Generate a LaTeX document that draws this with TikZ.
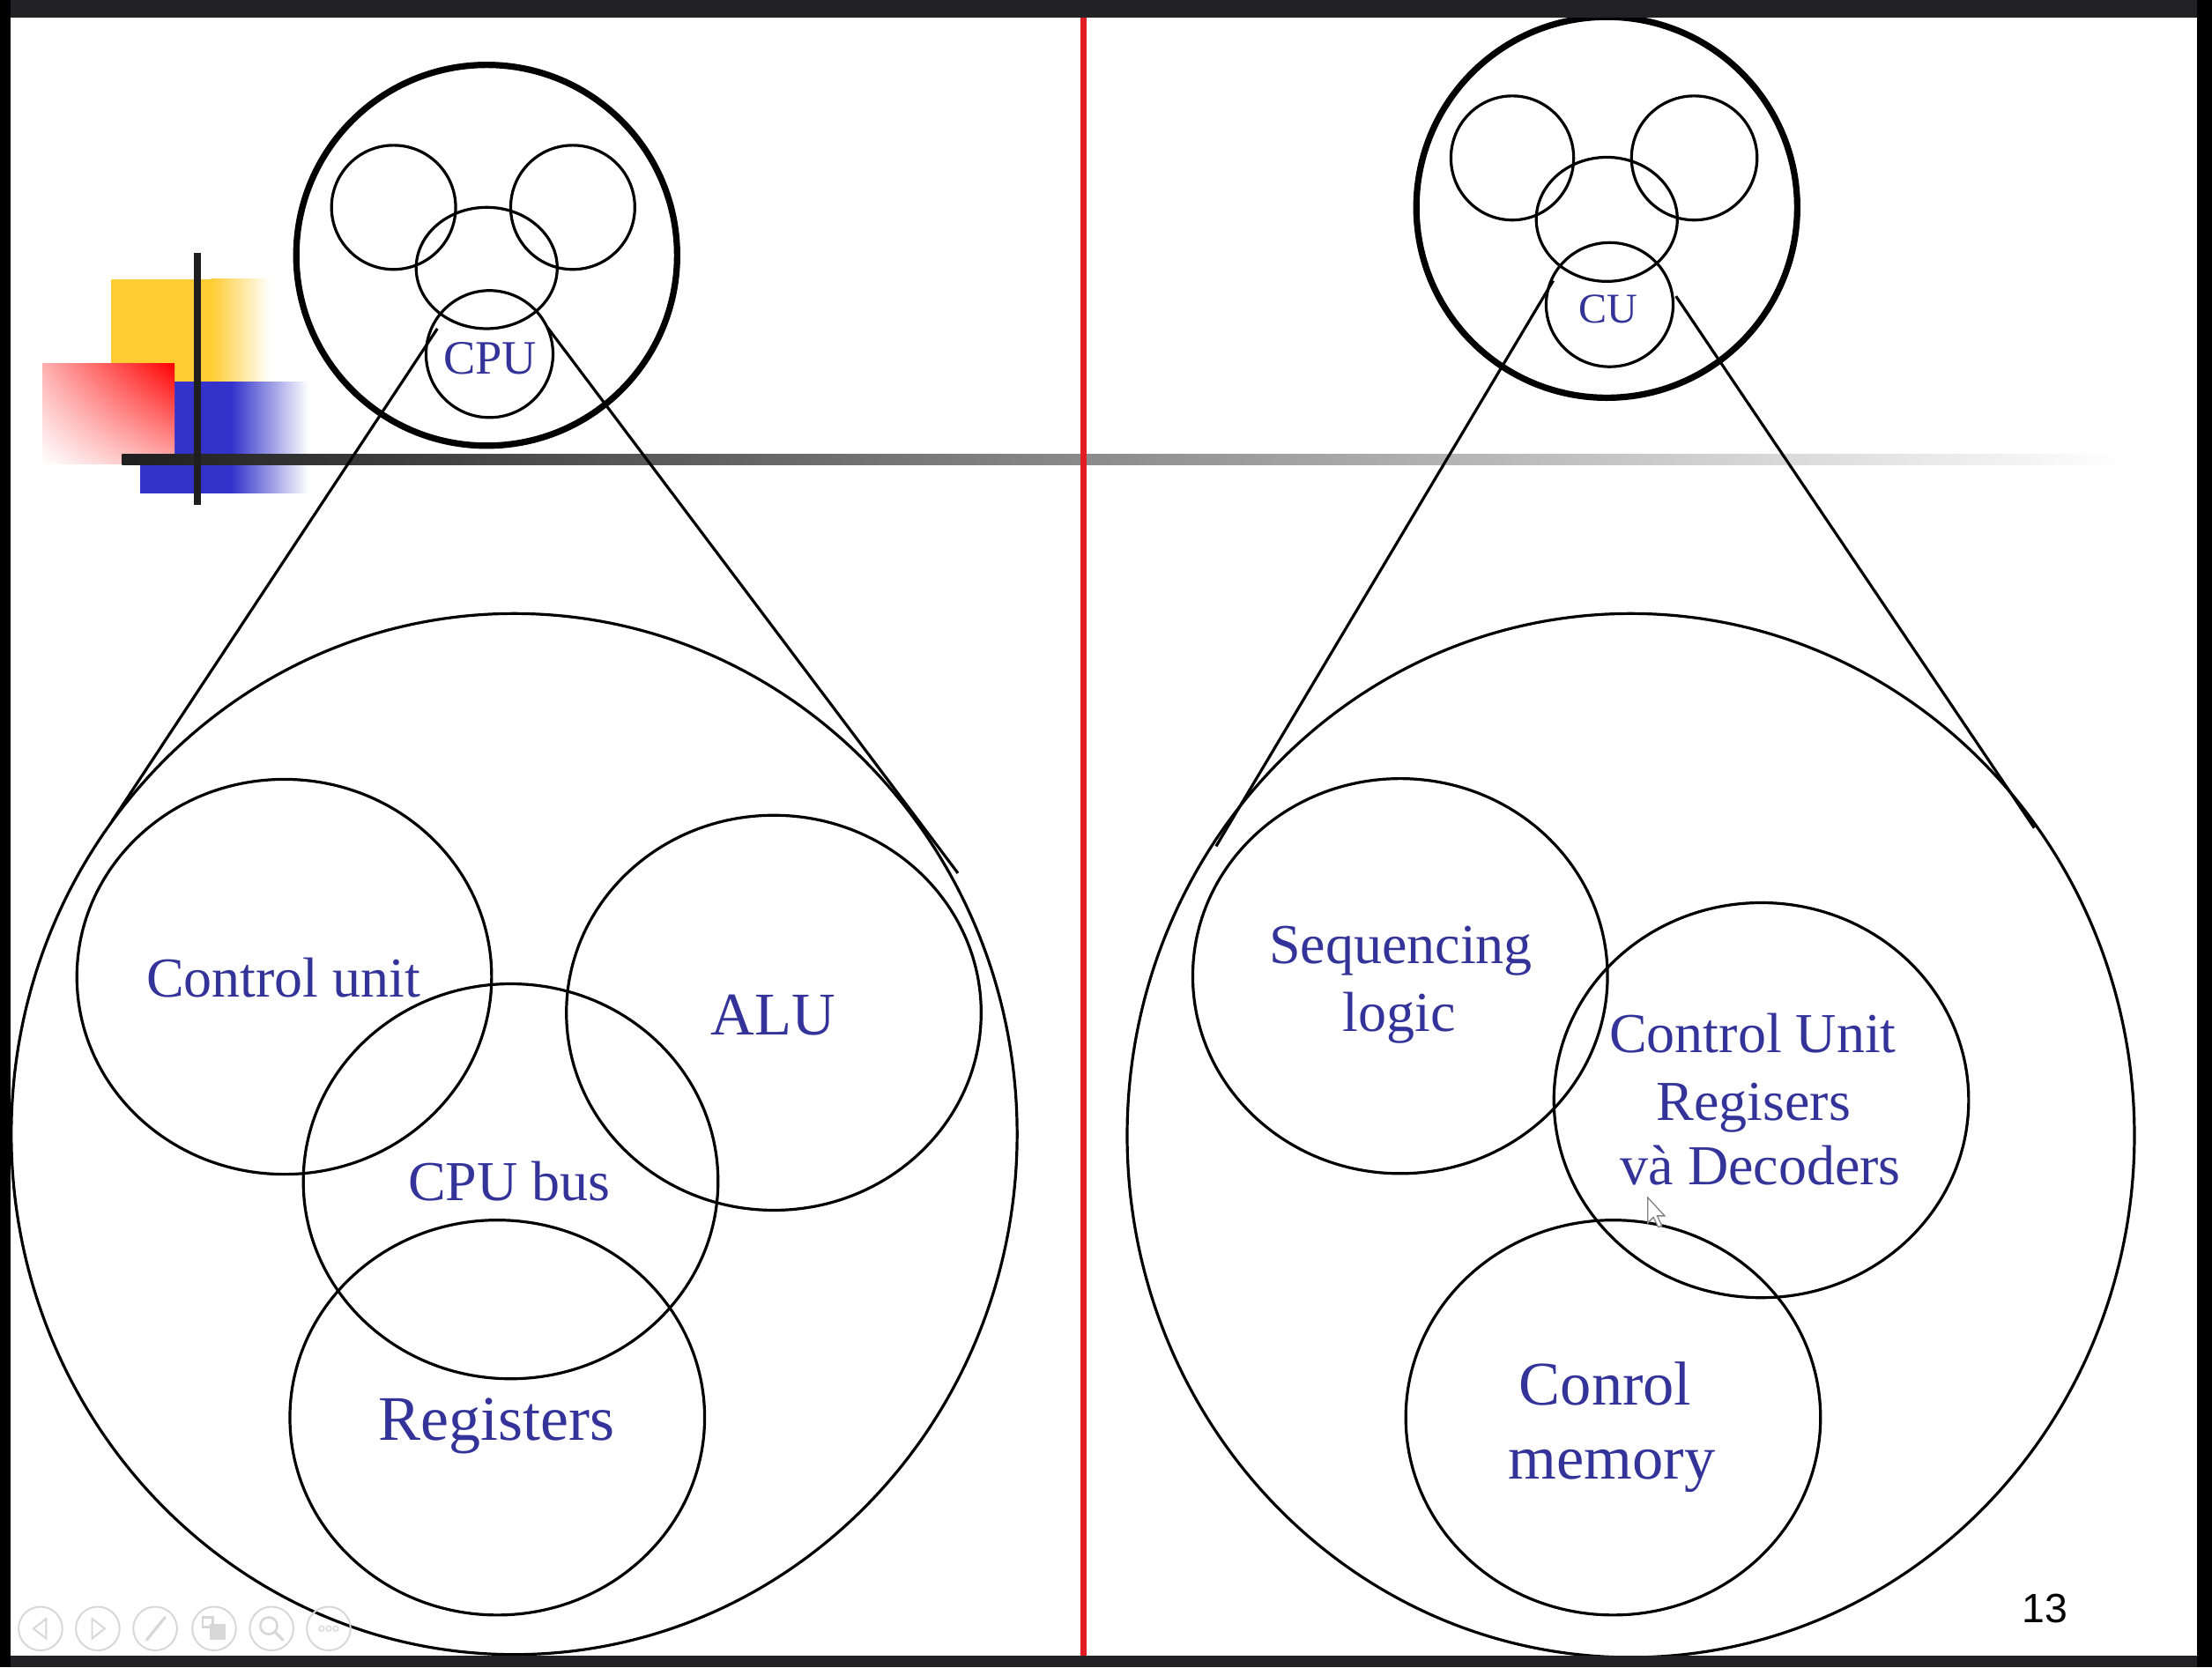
\documentclass[tikz,border=0pt]{standalone}
\usepackage{fontspec}
\setmainfont{Liberation Serif}
\newfontfamily\numfont{Liberation Sans}
\usetikzlibrary{shapes.geometric,calc,shadings}
\definecolor{txtblue}{RGB}{51,51,153}
\definecolor{decoyellow}{RGB}{255,204,51}
\definecolor{decoblue}{RGB}{51,51,204}
\definecolor{decored}{RGB}{255,0,0}
\definecolor{decopink}{RGB}{255,175,175}
\definecolor{linered}{RGB}{226,30,36}
\definecolor{framedark}{RGB}{34,34,36}
\definecolor{navgray}{RGB}{215,215,215}
\tikzset{
  ring/.style={draw=black, line width=2pt, ellipse, inner sep=0pt, outer sep=0pt},
  thickring/.style={draw=black, line width=4.5pt, ellipse, inner sep=0pt, outer sep=0pt},
  zoomline/.style={draw=black, line width=2pt},
  lbl/.style={text=txtblue, inner sep=0pt, anchor=base},
  navring/.style={draw=navgray, line width=1.2pt, circle, minimum size=31pt, inner sep=0pt},
}
\begin{document}
\begin{tikzpicture}[x=1pt,y=-1pt]
\useasboundingbox (0,0) rectangle (1568,1182);
\fill[white] (0,0) rectangle (1568,1182);

% ---------- decoration top-left ----------
\fill[decoyellow] (78.7,197.8) rectangle (150,270.6);
\shade[left color=decoyellow, right color=white] (149.5,197.8) rectangle (191.6,270.6);
\fill[decoblue] (99.5,270.6) rectangle (164.5,349.8);
\shade[left color=decoblue, right color=white] (164,270.6) rectangle (218.6,349.8);
\shade[upper right=decored, upper left=decopink, lower right=decopink, lower left=white] (30,257.6) rectangle (123.8,329);
\shade[left color=black!88, middle color=black!28, right color=white] (86.4,321.9) rectangle (1505,329.4);
\fill[black!88] (137.4,179.5) rectangle (142.2,358);

% ---------- red separator ----------
\draw[linered, line width=4.5pt] (768,10) -- (768,1176);

% ---------- left: CPU ----------
\node[thickring, minimum width=270, minimum height=270] (cpuOuter) at (345,181) {};
\node[ring, minimum width=88, minimum height=88] (cpuA) at (279,147) {};
\node[ring, minimum width=88, minimum height=88] (cpuB) at (406,147) {};
\node[ring, minimum width=100, minimum height=86] (cpuC) at (345,190) {};
\node[ring, minimum width=90, minimum height=90] (cpuSmall) at (347,251) {};
\node[lbl, font=\fontsize{34}{40}\selectfont] (cpuText) at (347.5,265) {CPU};

\node[ring, minimum width=713, minimum height=738] (bigL) at (364.5,804) {};
\node[ring, minimum width=294, minimum height=280] (cunit) at (201.5,692.5) {};
\node[ring, minimum width=294, minimum height=280] (alu) at (548.5,718) {};
\node[ring, minimum width=294, minimum height=280] (cpubus) at (362,837.5) {};
\node[ring, minimum width=294, minimum height=280] (regs) at (352.5,1005) {};

\node[lbl, font=\fontsize{40}{48}\selectfont] (tCunit) at (201,706.6) {Control unit};
\node[lbl, font=\fontsize{43}{52}\selectfont] (tAlu) at (548,734) {ALU};
\node[lbl, font=\fontsize{40}{48}\selectfont] (tBus) at (361,851) {CPU bus};
\node[lbl, font=\fontsize{45}{54}\selectfont] (tRegs) at (352,1021) {Registers};

\coordinate (cpuLt) at (310,233);
\coordinate (cpuRt) at (388,232);
\coordinate (bigLl) at (79.5,582);
\coordinate (bigLr) at (679,619);
\draw[zoomline] (cpuLt) -- (bigLl);
\draw[zoomline] (cpuRt) -- (bigLr);

% ---------- right: CU ----------
\node[thickring, minimum width=270, minimum height=270] (cuOuter) at (1139,147) {};
\node[ring, minimum width=87, minimum height=88] (cuA) at (1072,112) {};
\node[ring, minimum width=89, minimum height=88] (cuB) at (1201,112) {};
\node[ring, minimum width=100, minimum height=88] (cuC) at (1139,155.5) {};
\node[ring, minimum width=90, minimum height=88] (cuSmall) at (1141,216) {};
\node[lbl, font=\fontsize{30}{36}\selectfont] (cuText) at (1140,229) {CU};

\node[ring, minimum width=714, minimum height=740] (bigR) at (1156,805) {};
\node[ring, minimum width=294, minimum height=280] (seq) at (992.5,692) {};
\node[ring, minimum width=294, minimum height=280] (curd) at (1248.5,780) {};
\node[ring, minimum width=294, minimum height=280] (cmem) at (1143.5,1005) {};

\node[lbl, font=\fontsize{40}{48}\selectfont] (tSeq1) at (993,683) {Sequencing};
\node[lbl, font=\fontsize{40}{48}\selectfont] (tSeq2) at (992,731) {logic};
\node[lbl, font=\fontsize{40}{48}\selectfont] (tCu1) at (1242.5,746.5) {Control Unit};
\node[lbl, font=\fontsize{40}{48}\selectfont] (tCu2) at (1243,794.5) {Regisers};
\node[lbl, font=\fontsize{40}{48}\selectfont] (tCu3) at (1248,840) {và Decoders};
\node[lbl, font=\fontsize{44}{53}\selectfont] (tMem1) at (1138,996) {Conrol};
\node[lbl, font=\fontsize{44}{53}\selectfont] (tMem2) at (1142.5,1048.6) {memory};

\coordinate (cuLt) at (1101,199);
\coordinate (cuRt) at (1188,210);
\coordinate (bigRl) at (862,600);
\coordinate (bigRr) at (1442,587);
\draw[zoomline] (cuLt) -- (bigRl);
\draw[zoomline] (cuRt) -- (bigRr);

% ---------- page number ----------
\node[anchor=base, inner sep=0pt, font=\numfont\fontsize{29}{35}\selectfont] (pnum) at (1449.5,1150.6) {13};

% ---------- mouse cursor ----------
\draw[gray, fill=white, line width=0.8pt, line join=miter]
  (1168,849) -- (1168,867) -- (1172,863) -- (1175.5,870) -- (1178,869) -- (1174.8,862) -- (1180,862) -- cycle;

% ---------- slide navigation icons ----------
\node[navring] (nav1) at (28.7,1154.6) {};
\node[navring] (nav2) at (69.3,1154.6) {};
\node[navring] (nav3) at (110,1154.6) {};
\node[navring] (nav4) at (151.8,1154.6) {};
\node[navring] (nav5) at (192.5,1154.6) {};
\node[navring] (nav6) at (233,1154.6) {};
\draw[navgray, line width=1.2pt] ($(nav1)+(4,-7)$) -- ($(nav1)+(-5,0)$) -- ($(nav1)+(4,7)$) -- cycle;
\draw[navgray, line width=1.2pt] ($(nav2)+(-4,-7)$) -- ($(nav2)+(5,0)$) -- ($(nav2)+(-4,7)$) -- cycle;
\draw[navgray, line width=2pt, line cap=round] ($(nav3)+(7,-8)$) -- ($(nav3)+(-6,8)$);
\draw[navgray, line width=1.5pt] ($(nav4)+(-8,-8)$) rectangle ($(nav4)+(-1,-1)$);
\fill[navgray] ($(nav4)+(-3,-3)$) rectangle ($(nav4)+(8,8)$);
\draw[navgray, line width=1.6pt] ($(nav5)+(-2,-2)$) circle (6);
\draw[navgray, line width=2pt, line cap=round] ($(nav5)+(2.5,2.5)$) -- ($(nav5)+(8,8)$);
\foreach \dx in {-5,0,5} \draw[navgray, line width=0.8pt] ($(nav6)+(\dx,0)$) circle (1.8);

% ---------- frame ----------
\fill[framedark] (0,0) rectangle (1568,12.5);
\fill[framedark] (0,1174) rectangle (1568,1182);
\fill[black] (0,0) rectangle (7.6,1182);
\fill[black] (1557.6,0) rectangle (1568,1182);
\end{tikzpicture}
\end{document}
